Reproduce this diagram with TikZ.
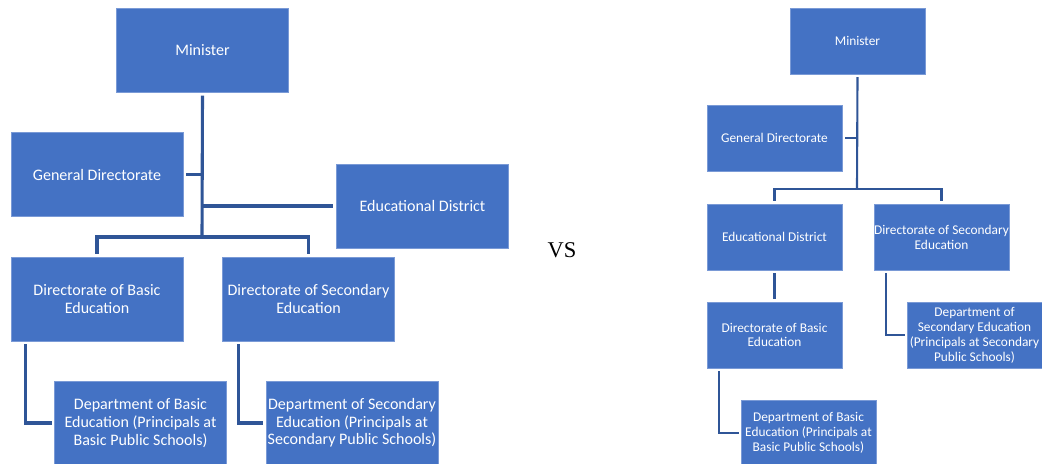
\documentclass[tikz,border=0pt]{standalone}
\usepackage{fontspec}
\setmainfont{Carlito}
\newfontfamily\vsfont{Liberation Serif}
\usepackage{xcolor}
\usetikzlibrary{positioning, calc}
\definecolor{boxfill}{HTML}{4472C4}
\definecolor{boxedge}{HTML}{7A9AD6}
\definecolor{linkblue}{HTML}{2F5597}

\begin{document}
\begin{tikzpicture}[x=0.025cm, y=-0.025cm,
		unit/.style={draw=boxedge, line width=0.3pt, fill=boxfill, text=white, align=center, inner sep=0pt},
		bigunit/.style={unit, minimum width=172*0.025cm, minimum height=84*0.025cm, font=\fontsize{11.4}{12.6}\selectfont},
		smallunit/.style={unit, minimum width=135*0.025cm, minimum height=66*0.025cm, font=\fontsize{9.5}{10.6}\selectfont},
		biglink/.style={draw=linkblue, line width=2.2pt},
		smalllink/.style={draw=linkblue, line width=1.5pt}]
		\useasboundingbox (0,0) rectangle (1042,464);

		% first chart
		\node[bigunit] (Minister1) at (202.5,50.5) {Minister};
		\node[bigunit] (General1) at (97,174.5) {General Directorate};
		\node[bigunit] (District1) at (422.5,206) {Educational District};
		\node[bigunit] (Basic1) at (97,299) {Directorate of Basic\\
			Education};
		\node[bigunit] (Secondary1) at (308.5,299) {Directorate of Secondary\\
			Education};
		\node[bigunit] (BasicDept1) at (140.5,423) {Department of Basic\\
			Education (Principals at\\
			Basic Public Schools)};
		\node[bigunit] (SecondaryDept1) at (352,423) {Department of Secondary\\
			Education (Principals at\\
			Secondary Public Schools)};
		\coordinate (Bus1) at (202,237);

		\draw[biglink] ($(Minister1.south)+(0,3)$) -- (Bus1);
		\draw[biglink] ($(General1.east)+(3,0)$) -- (General1.east -| Bus1);
		\draw[biglink] (District1.west -| Bus1) -- ($(District1.west)+(-3,0)$);
		\draw[biglink] ($(Basic1.north)+(0,-3)$) |- (Bus1) -| ($(Secondary1.north)+(0,-3)$);
		\draw[biglink] ($(Basic1.south west)+(15,3)$) |- ($(BasicDept1.west)+(-2,0)$);
		\draw[biglink] ($(Secondary1.south west)+(16,3)$) |- ($(SecondaryDept1.west)+(-3,0)$);

		\node (Versus) at (562,250) {\vsfont\fontsize{16}{18}\selectfont VS};

		% second chart
		\node[smallunit] (Minister2) at (857.5,41) {Minister};
		\node[smallunit] (General2) at (774.5,138) {General Directorate};
		\node[smallunit] (District2) at (774.5,237) {Educational District};
		\node[smallunit] (Secondary2) at (941.5,237) {Directorate of Secondary\\
			Education};
		\node[smallunit] (Basic2) at (774.5,335) {Directorate of Basic\\
			Education};
		\node[smallunit] (SecondaryDept2) at (974.5,335) {Department of\\
			Secondary Education\\
			(Principals at Secondary\\
			Public Schools)};
		\node[smallunit] (BasicDept2) at (808.5,433) {Department of Basic\\
			Education (Principals at\\
			Basic Public Schools)};
		\coordinate (Bus2) at (857,189);

		\draw[smalllink] ($(Minister2.south)+(0,3)$) -- (Bus2);
		\draw[smalllink] ($(General2.east)+(3,0)$) -- (General2.east -| Bus2);
		\draw[smalllink] ($(District2.north)+(0,-3)$) |- (Bus2) -| ($(Secondary2.north)+(0,-3)$);
		\draw[smalllink] ($(District2.south)+(0,3)$) -- ($(Basic2.north)+(0,-3)$);
		\draw[smalllink] ($(Secondary2.south west)+(12,3)$) |- ($(SecondaryDept2.west)+(-2,0)$);
		\draw[smalllink] ($(Basic2.south west)+(12,3)$) |- ($(BasicDept2.west)+(-2,0)$);
	\end{tikzpicture}
\end{document}
